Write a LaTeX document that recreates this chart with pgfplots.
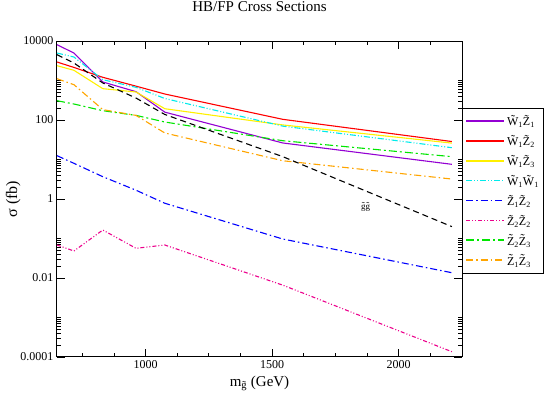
\documentclass[border=0pt]{standalone}
\usepackage{fontspec}
\setmainfont{Liberation Serif}
\usepackage{pgfplots}
\pgfplotsset{compat=1.18}
\definecolor{gviolet}{RGB}{148,0,211}
\definecolor{gorange}{RGB}{255,165,0}
\definecolor{ggreen}{RGB}{0,230,0}
\definecolor{gyellow}{RGB}{255,240,0}
\definecolor{gcyan}{RGB}{0,235,235}

\pgfplotstableread{
m      wzone  wztwo  wzthree ww    gg     zzone  zztwo  zzthree zthree
650    8050   2940   2370    4960  4500   12.5   0.0684  308    1110
717    4960   2140   1810    3930  2770   8.0    0.0483  254    783
831    917    1205   621     1047  866    3.67   0.164   172    183
962    522    720    512     673   360    1.67   0.0565  131    131
1076   158    455    193     350   138    0.78   0.0684  89     46.9
1542   26.2   104    75      70    11.8   0.097  0.0066  29.9   9.3
2210   7.55   28.5   26      19.9  0.2    0.0136 0.000136 11.8  3.2
}\xsec

\begin{document}
\begin{tikzpicture}
\useasboundingbox (-57pt,-39pt) rectangle (490pt,357pt);
\begin{axis}[
    scale only axis,
    width=405pt, height=316pt,
    xmin=650, xmax=2250,
    ymode=log, ymin=1e-4, ymax=1e4,
    xtick={1000,1500,2000},
    xticklabels={1000,1500,2000},
    minor xtick={750,875,1125,1250,1375,1625,1750,1875,2125},
    ytick={1e-4,1e-2,1,100,1e4},
    yticklabels={0.0001,0.01,1,100,10000},
    minor ytick={2e-4,3e-4,4e-4,5e-4,6e-4,7e-4,8e-4,9e-4,1e-3,
                 2e-2,3e-2,4e-2,5e-2,6e-2,7e-2,8e-2,9e-2,1e-1,
                 2,3,4,5,6,7,8,9,10,
                 200,300,400,500,600,700,800,900,1000},
    major tick length=8pt, minor tick length=4pt,
    tick style={black, line width=0.8pt},
    axis line style={line width=1pt},
    tick label style={font=\fontsize{12}{14}\selectfont},
    /pgf/number format/assume math mode=true,
    title={HB/FP Cross Sections},
    title style={at={(axis description cs:0.5,1.073)}, anchor=base, font=\fontsize{15}{18}\selectfont},
    xlabel={m\textsubscript{\~g} (GeV)},
    xlabel style={at={(axis description cs:0.5,-0.092)}, anchor=base, font=\fontsize{15}{17}\selectfont},
    ylabel={σ (fb)},
    ylabel style={at={(axis description cs:-0.108,0.5)}, anchor=center, font=\fontsize{16}{18}\selectfont},
    legend style={at={(axis description cs:1.0,0.788)}, anchor=north west,
        draw=black, line width=0.6pt, font=\fontsize{12}{14}\selectfont,
        row sep=4pt, inner xsep=3pt, inner ysep=5pt, fill=white},
    legend cell align=left,
    legend image code/.code={\draw[#1, line width=1.8pt] (0pt,0.5pt) -- (38pt,0.5pt);},
    every axis plot/.append style={line width=1.1pt},
]
\addplot[gviolet] table[x=m, y=wzone] {\xsec};
\addlegendentry{\~W\textsubscript{1}\~Z\textsubscript{1}}
\addplot[red] table[x=m, y=wztwo] {\xsec};
\addlegendentry{\~W\textsubscript{1}\~Z\textsubscript{2}}
\addplot[gyellow] table[x=m, y=wzthree] {\xsec};
\addlegendentry{\~W\textsubscript{1}\~Z\textsubscript{3}}
\addplot[gcyan, dash pattern=on 6pt off 2pt on 1pt off 2pt on 1pt off 2pt] table[x=m, y=ww] {\xsec};
\addlegendentry{\~W\textsubscript{1}\~W\textsubscript{1}}
\addplot[blue, dash pattern=on 7pt off 3pt on 1.5pt off 3pt] table[x=m, y=zzone] {\xsec};
\addlegendentry{\~Z\textsubscript{1}\~Z\textsubscript{2}}
\addplot[magenta, dash pattern=on 4pt off 2pt on 1pt off 2pt on 1pt off 2pt] table[x=m, y=zztwo] {\xsec};
\addlegendentry{\~Z\textsubscript{2}\~Z\textsubscript{2}}
\addplot[ggreen, dash pattern=on 8pt off 3pt on 2pt off 3pt] table[x=m, y=zzthree] {\xsec};
\addlegendentry{\~Z\textsubscript{2}\~Z\textsubscript{3}}
\addplot[gorange, dash pattern=on 7pt off 3pt on 1.5pt off 3pt] table[x=m, y=zthree] {\xsec};
\addlegendentry{\~Z\textsubscript{1}\~Z\textsubscript{3}}
\addplot[black, dash pattern=on 6pt off 4pt, forget plot] table[x=m, y=gg] {\xsec};
\node[font=\fontsize{9}{10}\selectfont] at (axis cs:1869,0.63) {\~g\~g};
\end{axis}
\end{tikzpicture}
\end{document}
